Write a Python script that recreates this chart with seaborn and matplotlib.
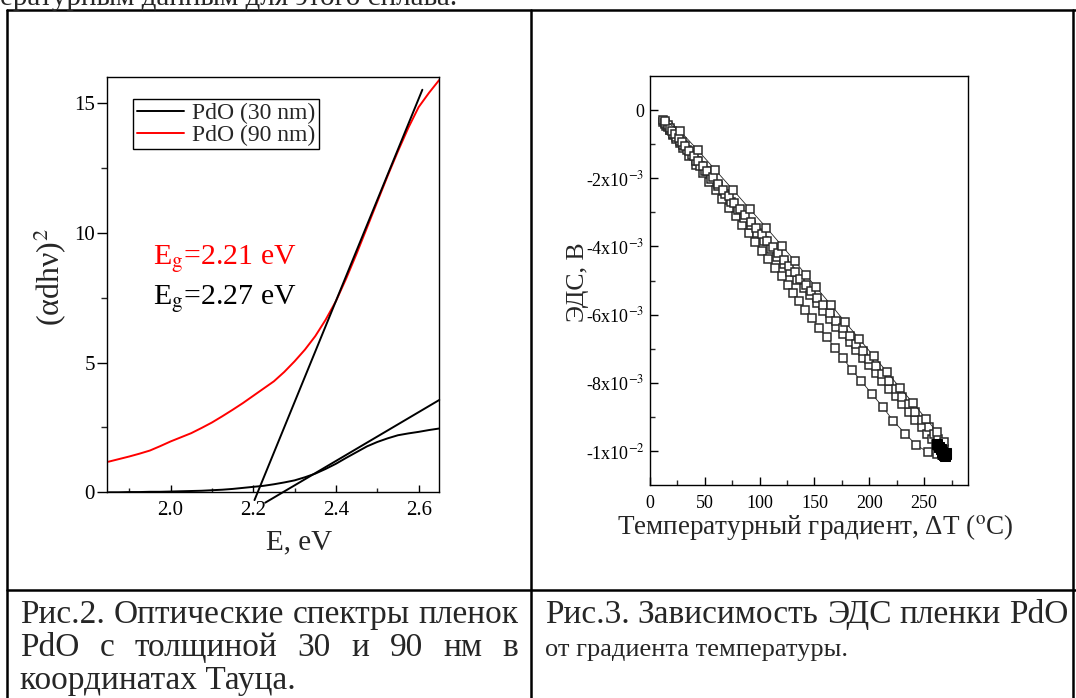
import numpy as np
import pandas as pd
import matplotlib
matplotlib.use("Agg")
import matplotlib.pyplot as plt
import seaborn as sns
from matplotlib.lines import Line2D
from matplotlib.ticker import FixedLocator, FixedFormatter

# ---------------- data: Tauc plot (Рис.2) ----------------
energy = [1.85, 1.875, 1.90, 1.925, 1.95, 1.975, 2.00, 2.025, 2.05, 2.075,
          2.10, 2.125, 2.15, 2.175, 2.20, 2.225, 2.25, 2.275, 2.30, 2.325,
          2.35, 2.375, 2.40, 2.425, 2.45, 2.475, 2.50, 2.525, 2.55, 2.575,
          2.60, 2.625, 2.65]
tauc_90nm = [1.18, 1.28, 1.38, 1.49, 1.61, 1.78, 1.96, 2.12, 2.28, 2.48,
             2.69, 2.93, 3.18, 3.44, 3.72, 4.00, 4.28, 4.64, 5.05, 5.50,
             6.02, 6.65, 7.37, 8.25, 9.20, 10.20, 11.20, 12.20, 13.15, 14.05,
             14.85, 15.40, 15.90]
tauc_30nm = [0.00, 0.00, 0.01, 0.01, 0.02, 0.02, 0.03, 0.04, 0.05, 0.06,
             0.08, 0.10, 0.13, 0.17, 0.21, 0.25, 0.31, 0.38, 0.46, 0.58,
             0.72, 0.90, 1.10, 1.33, 1.55, 1.77, 1.94, 2.08, 2.20, 2.27,
             2.33, 2.40, 2.46]
fit90_E = [2.203, 2.609]
fit90_y = [-0.30, 15.52]
fit30_E = [2.229, 2.650]
fit30_y = [-0.40, 3.56]
legend_labels = ["PdO (30 nm)", "PdO (90 nm)"]
eg_labels = ["E$_{\\mathrm{g}}$=2.21 eV", "E$_{\\mathrm{g}}$=2.27 eV"]

# ---------------- data: EMF vs temperature gradient (Рис.3), mV ----------------
U_T = [13.6, 27.3, 43.4, 59.7, 75.7, 90.9, 106.1, 120.3, 131.8, 142.5, 151.5,
       165.2, 178, 191, 204, 216, 228, 240, 251.5, 262, 268]
U_V = [-0.32, -0.61, -1.17, -1.76, -2.34, -2.90, -3.45, -3.98, -4.42, -4.85, -5.20,
       -5.72, -6.22, -6.72, -7.22, -7.68, -8.15, -8.60, -9.05, -9.45, -9.75]
M_T = [12, 14, 16, 18, 20, 23, 26, 29, 32, 36, 40, 44, 48, 52, 57, 62, 67, 72,
       77, 82, 87, 92, 97, 102, 107, 112, 117, 122, 127, 132, 137, 142, 147,
       152, 158, 164, 170, 176, 182, 188, 194, 200, 206, 212, 218, 224, 230,
       236, 242, 248, 254, 259, 263, 266, 268]
M_V = [-0.30, -0.37, -0.45, -0.52, -0.60, -0.71, -0.82, -0.93, -1.04, -1.19,
       -1.34, -1.49, -1.64, -1.79, -1.97, -2.16, -2.34, -2.53, -2.72, -2.90,
       -3.09, -3.27, -3.46, -3.65, -3.83, -4.02, -4.20, -4.39, -4.58, -4.76,
       -4.95, -5.13, -5.32, -5.51, -5.73, -5.95, -6.18, -6.40, -6.62, -6.85,
       -7.07, -7.29, -7.52, -7.74, -7.96, -8.18, -8.41, -8.63, -8.85, -9.08,
       -9.30, -9.49, -9.66, -9.80, -9.95]
N_T = [14, 16, 18, 21, 24, 27, 30, 34, 38, 42, 46, 50, 56, 62, 68, 74, 80, 86,
       92, 98, 104, 110, 116, 122, 128, 134, 140, 146, 152, 158, 164, 170, 176,
       182, 188, 194, 200, 206, 212, 218, 224, 230, 236, 242, 248, 253, 257,
       261, 264, 267]
N_V = [-0.42, -0.50, -0.57, -0.69, -0.80, -0.91, -1.02, -1.18, -1.33, -1.48,
       -1.63, -1.79, -2.02, -2.24, -2.47, -2.70, -2.93, -3.16, -3.38, -3.61,
       -3.84, -4.07, -4.30, -4.52, -4.75, -4.98, -5.21, -5.44, -5.66, -5.89,
       -6.12, -6.35, -6.58, -6.80, -7.03, -7.26, -7.49, -7.72, -7.94, -8.17,
       -8.40, -8.63, -8.86, -9.08, -9.31, -9.50, -9.66, -9.81, -9.92, -10.02]
L_T = [12, 15, 18, 21, 24, 27, 30, 36, 42, 48, 54, 60, 66, 72, 78, 84, 90, 96,
       102, 108, 114, 120, 125.8, 130.3, 135.8, 141.5, 147.9, 153.9, 161.2,
       168.8, 175.8, 183.9, 192.4, 202.1, 212.1, 221.8, 232.7, 242.4, 253.6,
       262, 266, 268]
L_V = [-0.34, -0.47, -0.59, -0.72, -0.84, -0.97, -1.10, -1.35, -1.60, -1.85,
       -2.10, -2.35, -2.60, -2.86, -3.11, -3.36, -3.61, -3.86, -4.12, -4.37,
       -4.62, -4.87, -5.12, -5.37, -5.61, -5.86, -6.10, -6.39, -6.66, -6.98,
       -7.27, -7.62, -7.94, -8.32, -8.70, -9.12, -9.49, -9.82, -10.04, -10.10,
       -10.12, -10.08]
E_T = [262, 264, 265, 266, 267, 268, 269, 270, 270]
E_V = [-9.80, -9.88, -9.95, -10.02, -10.08, -10.12, -10.15, -10.10, -10.05]
emf_yticks = [0, -2, -4, -6, -8, -10]
emf_yticklabels = ["0", "-2x10$^{-3}$", "-4x10$^{-3}$", "-6x10$^{-3}$",
                   "-8x10$^{-3}$", "-1x10$^{-2}$"]
emf_xticks = [0, 50, 100, 150, 200, 250]

# ---------------- style ----------------
sns.set_theme(style="ticks")
plt.rcParams['font.family'] = ['Liberation Serif', 'DejaVu Serif']
plt.rcParams['mathtext.fontset'] = 'stix'
plt.rcParams['axes.linewidth'] = 1.0

W, H = 1076, 698
fig = plt.figure(figsize=(W / 100, H / 100), dpi=100)
fig.patch.set_facecolor('white')


def fx(x):
    return x / W


def fy(y):
    return 1 - y / H


def ax_rect(l, t, r, b):
    return [fx(l), fy(b), (r - l) / W, (b - t) / H]


# ---------------- table borders & page text ----------------
tbl = dict(color='black', lw=1.8, transform=fig.transFigure, clip_on=False)
fig.add_artist(Line2D([fx(7), fx(1076)], [fy(10), fy(10)], **tbl))
fig.add_artist(Line2D([fx(7), fx(7)], [fy(10), fy(698)], **tbl))
fig.add_artist(Line2D([fx(531), fx(531)], [fy(10), fy(698)], **tbl))
fig.add_artist(Line2D([fx(1073), fx(1073)], [fy(10), fy(698)], **tbl))
fig.add_artist(Line2D([fx(7), fx(1076)], [fy(590), fy(590)], **tbl))

fig.text(fx(0), fy(5), "ературным данным для этого сплава.", fontsize=21,
         va='baseline', ha='left')

# ---------------- left chart: Tauc plot ----------------
ax1 = fig.add_axes(ax_rect(107.3, 77.3, 439.3, 492.3))
df30 = pd.DataFrame({'E': energy, 'y': tauc_30nm})
df90 = pd.DataFrame({'E': energy, 'y': tauc_90nm})
sns.lineplot(data=df30, x='E', y='y', ax=ax1, color='black', lw=1.4,
             label=legend_labels[0], estimator=None, sort=False)
sns.lineplot(data=df90, x='E', y='y', ax=ax1, color='#ff0000', lw=1.4,
             label=legend_labels[1], estimator=None, sort=False)
ax1.plot(fit90_E, fit90_y, color='black', lw=1.4, clip_on=False)
ax1.plot(fit30_E, fit30_y, color='black', lw=1.4, clip_on=False)
ax1.set_xlim(1.847, 2.65)
ax1.set_ylim(0, 16.0)
ax1.xaxis.set_major_locator(FixedLocator([2.0, 2.2, 2.4, 2.6]))
ax1.xaxis.set_minor_locator(FixedLocator([1.9, 2.1, 2.3, 2.5]))
ax1.yaxis.set_major_locator(FixedLocator([0, 5, 10, 15]))
ax1.yaxis.set_minor_locator(FixedLocator([2.5, 7.5, 12.5]))
ax1.set_xticklabels(["2.0", "2.2", "2.4", "2.6"])
ax1.set_yticklabels(["0", "5", "10", "15"])
ax1.tick_params(axis='x', which='major', direction='in', length=5, width=1,
                labelsize=15, pad=6, colors='black')
ax1.tick_params(axis='x', which='minor', direction='in', length=3, width=1)
ax1.tick_params(axis='y', which='major', direction='out', length=7, width=1,
                labelsize=15, pad=2, colors='black')
ax1.tick_params(axis='y', which='minor', direction='out', length=4, width=1)
ax1.set_xlabel("")
ax1.set_ylabel("")
for s in ax1.spines.values():
    s.set_color('black')
    s.set_linewidth(1.0)
leg = ax1.legend(loc='upper left', bbox_to_anchor=(0.078, 0.947),
                 borderaxespad=0, fontsize=17, frameon=True, fancybox=False,
                 edgecolor='black', framealpha=1, handlelength=2.0,
                 handletextpad=0.35, labelspacing=0.0, borderpad=0.15)
leg.get_frame().set_linewidth(1.0)

fig.text(fx(153.3), fy(264), eg_labels[0], color='#ff0000', fontsize=21.5,
         va='baseline', ha='left')
fig.text(fx(153.3), fy(304), eg_labels[1], color='black', fontsize=21.5,
         va='baseline', ha='left')
fig.text(fx(50), fy(277), "(αdhν)$^{2}$", rotation=90, fontsize=23,
         ha='center', va='center')
fig.text(fx(299.5), fy(549), "E, eV", fontsize=21, ha='center', va='baseline')

# ---------------- right chart: EMF ----------------
ax2 = fig.add_axes(ax_rect(650, 76, 968, 485))
mk = dict(marker='s', markersize=6.3, markerfacecolor='white',
          markeredgecolor='#2a2a2a', markeredgewidth=1.1, color='#222222',
          lw=0.6, estimator=None, sort=False, legend=False)
for Ts, Vs in [(L_T, L_V), (N_T, N_V), (M_T, M_V), (U_T, U_V)]:
    d = pd.DataFrame({'T': Ts, 'V': np.array(Vs) * 1e-3})
    sns.lineplot(data=d, x='T', y='V', ax=ax2, **mk)
dE = pd.DataFrame({'T': E_T, 'V': np.array(E_V) * 1e-3})
sns.lineplot(data=dE, x='T', y='V', ax=ax2, marker='s', markersize=6.5,
             markerfacecolor='black', markeredgecolor='black', color='black',
             lw=0.6, estimator=None, sort=False, legend=False)
ax2.set_xlim(0, 290)
ax2.set_ylim(-0.011, 0.001)
ax2.xaxis.set_major_locator(FixedLocator(emf_xticks))
ax2.xaxis.set_minor_locator(FixedLocator([25, 75, 125, 175, 225, 275]))
ax2.set_xticklabels([str(v) for v in emf_xticks])
ax2.yaxis.set_major_locator(FixedLocator([v * 1e-3 for v in emf_yticks]))
ax2.yaxis.set_minor_locator(FixedLocator([-1e-3, -3e-3, -5e-3, -7e-3, -9e-3]))
ax2.yaxis.set_major_formatter(FixedFormatter(emf_yticklabels))
ax2.tick_params(axis='both', which='major', direction='in', length=6, width=1,
                labelsize=13, colors='black')
ax2.tick_params(axis='x', which='major', pad=7)
ax2.tick_params(axis='y', which='major', pad=4)
ax2.tick_params(axis='both', which='minor', direction='in', length=3.5, width=1)
ax2.set_xlabel("")
ax2.set_ylabel("")
for s in ax2.spines.values():
    s.set_color('black')
    s.set_linewidth(1.0)
fig.text(fx(578), fy(282), "ЭДС, В", rotation=90, fontsize=18.5,
         ha='center', va='center')
fig.text(fx(815), fy(534), "Температурный градиент, ΔT ($^{\\mathrm{o}}$C)",
         fontsize=19.5, ha='center', va='baseline')

# ---------------- captions ----------------
cap_size = 24
fig.canvas.draw()
renderer = fig.canvas.get_renderer()


def justified(words, x0, x1, ybase):
    ts = [fig.text(0, 0, w, fontsize=cap_size, va='baseline', ha='left')
          for w in words]
    ws = [t.get_window_extent(renderer).width for t in ts]
    gap = (x1 - x0 - sum(ws)) / (len(words) - 1)
    x = x0
    for t, w in zip(ts, ws):
        t.set_position((fx(x), fy(ybase)))
        x += w + gap


justified("Рис.2. Оптические спектры пленок".split(), 20, 518, 623)
justified("PdO с толщиной 30 и 90 нм в".split(), 20, 518, 656)
fig.text(fx(20), fy(689), "координатах Тауца.", fontsize=cap_size,
         va='baseline', ha='left')
justified("Рис.3. Зависимость ЭДС пленки PdO".split(), 545, 1068, 623)
fig.text(fx(545), fy(656), "от градиента температуры.", fontsize=19,
         va='baseline', ha='left')

fig.savefig("out.png", dpi=100)
